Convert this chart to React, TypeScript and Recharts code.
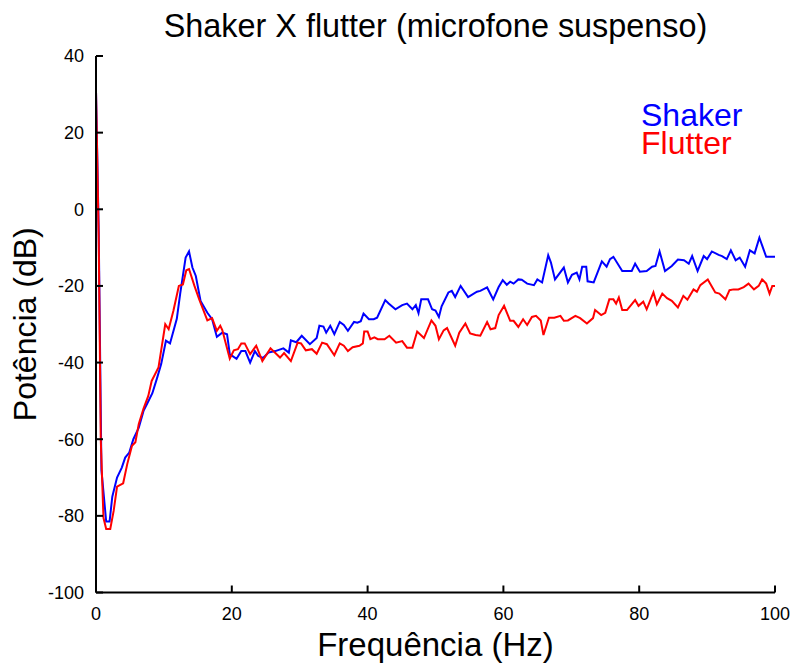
import React from 'react';
import { LineChart, Line, XAxis, YAxis, Legend } from 'recharts';

// [frequency Hz, power dB]
const SHAKER: [number, number][] = [
  [0, 31], [0.4, -6], [0.8, -68], [1.5, -81.5], [2.0, -81.5], [2.4, -75], [3.1, -70], [3.8, -67.4],
  [4.3, -64.8], [4.9, -63.5], [5.5, -60], [6.3, -57], [7.0, -52.6], [7.6, -50.5], [8.3, -48], [9.0, -44],
  [9.6, -40.4], [10.3, -34.3], [10.9, -35], [11.9, -28.6], [12.4, -22], [13.2, -12.6], [13.7, -11],
  [14.2, -15.2], [14.7, -17.4], [15.4, -23.9], [16.4, -27], [17.1, -28.7], [17.8, -33.3], [18.6, -32.2],
  [19.3, -32.6], [19.7, -37.8], [20.7, -39], [21.4, -37], [22.0, -37], [22.7, -40], [23.4, -37],
  [23.9, -38.3], [24.6, -38.8], [25.4, -37.4], [26.4, -37], [27.6, -36.3], [28.4, -37.4], [28.7, -34.2],
  [29.5, -34.7], [30.3, -33], [31.5, -35.2], [32.5, -33.6], [32.9, -30.4], [33.5, -30.6], [33.9, -32.2],
  [34.5, -30.4], [35.1, -32.6], [35.9, -29.4], [36.5, -30.2], [37.1, -31.7], [38.0, -29.4], [38.5, -29.6],
  [39.0, -29.2], [39.4, -27.2], [40.2, -28.7], [40.9, -28.7], [41.4, -28.3], [42.6, -23.7], [43.1, -24.6],
  [44.1, -26.1], [45.1, -25], [45.8, -24.6], [46.6, -26.1], [47.1, -25], [47.5, -27.1], [47.9, -23.5],
  [48.9, -23.5], [49.5, -26.1], [50.0, -26.4], [50.5, -28.1], [50.9, -25.3], [51.9, -21.7], [52.4, -21.3],
  [52.9, -22.9], [53.7, -20], [54.8, -22.9], [56.1, -21.5], [56.6, -21.3], [57.6, -20.4], [58.5, -23.5],
  [59.3, -20.3], [59.9, -18.5], [60.5, -19.7], [61.0, -18.9], [61.5, -19.4], [62.2, -18.3], [62.7, -18.4],
  [63.5, -19.4], [64.5, -19.8], [65.0, -18.3], [65.7, -19.1], [66.6, -12], [67.0, -13.9], [67.6, -18.3],
  [68.9, -15.2], [69.5, -19.1], [70.1, -17.1], [70.8, -16.5], [71.2, -18.3], [71.6, -15], [72.2, -15],
  [72.4, -18.8], [73.3, -19.1], [74.5, -13.6], [75.2, -15], [75.7, -13], [76.2, -12.4], [77.5, -16.1],
  [78.9, -16.1], [79.4, -14.2], [80.1, -16.3], [81.1, -16.1], [81.9, -15], [82.4, -14.8], [83.0, -11],
  [83.8, -16.1], [84.8, -14.8], [85.7, -13.1], [86.6, -13.3], [87.3, -14.2], [87.8, -12.2], [88.6, -16.1],
  [89.5, -12.2], [90.0, -13], [90.7, -11], [91.7, -11.9], [92.2, -12.2], [92.9, -13], [93.5, -10.7],
  [94.2, -13.3], [94.8, -12.6], [95.6, -15], [96.3, -10.7], [97.0, -11.5], [97.7, -7.4], [98.7, -12.4],
  [99.6, -12.4], [100, -12.4],
];

const FLUTTER: [number, number][] = [
  [0, 31], [0.4, -8], [0.7, -60], [1.1, -80.5], [1.5, -83.4], [2.1, -83.4], [2.6, -78.7], [3.1, -72.4],
  [4.0, -71.5], [4.6, -66.5], [5.3, -61.7], [5.8, -60.8], [6.3, -56], [7.0, -52], [7.7, -48.7], [8.2, -44.8],
  [9.2, -41.3], [10.2, -30], [10.7, -31.3], [11.4, -26.5], [12.2, -20], [12.8, -19.6], [13.3, -15.9],
  [13.7, -15.6], [14.5, -20], [15.2, -23.5], [16.4, -29], [17.1, -28.4], [17.8, -31.7], [18.3, -30.4],
  [18.6, -31.5], [19.7, -39], [20.3, -36.8], [20.9, -36.5], [21.4, -35], [21.9, -35], [22.7, -37.8],
  [23.6, -35.6], [24.5, -39.6], [25.7, -36.3], [27.1, -38.7], [27.7, -37.5], [28.7, -39.6], [29.7, -34.8],
  [30.2, -35], [30.9, -36.8], [31.8, -36.5], [32.5, -37.7], [33.3, -34.8], [34.0, -35.2], [35.1, -38.1],
  [35.9, -35], [36.5, -35.6], [37.1, -37], [37.8, -36], [38.8, -35.6], [39.3, -35], [39.5, -31.9],
  [40.0, -31.9], [40.4, -33.9], [41.0, -33.4], [41.5, -33.9], [42.5, -33.9], [43.2, -33], [44.2, -34.8],
  [45.1, -34.4], [45.8, -36.1], [46.6, -36.1], [47.3, -31.9], [48.3, -33.6], [49.4, -29], [50.0, -30.4],
  [50.5, -33.9], [51.2, -31.6], [51.7, -31], [52.9, -35.6], [53.5, -32.2], [54.4, -29.8], [55.1, -32.4],
  [55.9, -32.8], [56.6, -33], [57.6, -29.4], [58.1, -31.3], [58.8, -31], [59.3, -27.6], [60.1, -25.2],
  [61.0, -29.1], [61.5, -29.1], [62.2, -30.7], [62.9, -28.7], [63.5, -30.2], [64.2, -28.1], [64.8, -27.8],
  [65.5, -29], [65.9, -32.8], [66.7, -28.3], [67.5, -28.3], [68.4, -27.8], [68.9, -29.1], [69.5, -29],
  [70.6, -27.8], [71.3, -28.4], [72.3, -29.8], [73.2, -28.4], [73.5, -26.3], [74.4, -27.6], [75.0, -27],
  [75.6, -23.5], [76.2, -23.5], [76.6, -24.6], [77.0, -23], [77.5, -26.3], [78.2, -26.3], [79.4, -23.7],
  [79.9, -25.2], [80.6, -24.1], [81.1, -26.1], [82.1, -21.7], [82.6, -24.8], [83.4, -22], [84.1, -23.2],
  [84.8, -23.9], [85.7, -25.6], [86.5, -22.6], [87.1, -23.6], [88.0, -20.9], [88.5, -21.5], [89.0, -19.8],
  [90.1, -18.3], [91.2, -21.7], [91.8, -22], [92.7, -23.5], [93.3, -21.1], [93.9, -20.9], [94.6, -20.9],
  [95.4, -20.3], [96.1, -19.4], [96.9, -20.9], [97.6, -20], [98.1, -18.3], [98.7, -19.4], [99.2, -22],
  [99.6, -20], [100, -20],
];

const X_TICKS = [0, 20, 40, 60, 80, 100];
const Y_TICKS = [-100, -80, -60, -40, -20, 0, 20, 40];
const SERIES = [
  { name: 'Shaker', color: '#0000ff', points: SHAKER },
  { name: 'Flutter', color: '#ff0000', points: FLUTTER },
];

const FONT = '"Liberation Sans", Arial, Helvetica, sans-serif';
const tickStyle = { fill: '#000', fontSize: 18, fontFamily: FONT };
const axisLine = { stroke: '#000', strokeWidth: 2 };

const LegendText = () => (
  <div style={{ fontFamily: FONT, fontSize: 32, lineHeight: '28px', textAlign: 'left' }}>
    {SERIES.map((s) => (
      <div key={s.name} style={{ color: s.color }}>{s.name}</div>
    ))}
  </div>
);

export default function App() {
  return (
    <div style={{ position: 'absolute', left: 0, top: 0, width: 795, height: 664, background: '#fff' }}>
      <div
        style={{
          position: 'absolute', left: 0, top: 10, width: 871, textAlign: 'center',
          fontFamily: FONT, fontSize: 32.4, lineHeight: '32px', color: '#000',
        }}
      >
        Shaker X flutter (microfone suspenso)
      </div>
      <LineChart width={795} height={664} margin={{ top: 56, right: 20, bottom: 0, left: 0 }}>
        <XAxis
          dataKey="f" type="number" domain={[0, 100]} ticks={X_TICKS} allowDataOverflow
          height={71.5} tickSize={-7} tickMargin={22} tick={tickStyle}
          axisLine={axisLine} tickLine={axisLine}
          label={{ value: 'Frequência (Hz)', position: 'insideBottom', offset: 8, fontSize: 33, fill: '#000', fontFamily: FONT }}
        />
        <XAxis
          xAxisId="top" orientation="top" dataKey="f" type="number" domain={[0, 100]} ticks={X_TICKS}
          allowDataOverflow height={0} tickSize={-7} tick={false}
          axisLine={axisLine} tickLine={axisLine}
        />
        <YAxis
          type="number" domain={[-100, 40]} ticks={Y_TICKS} allowDataOverflow
          width={96} tickSize={-7} tickMargin={19} tick={tickStyle}
          axisLine={axisLine} tickLine={axisLine}
          label={{
            value: 'Potência (dB)', angle: -90, position: 'insideLeft', offset: 25,
            fontSize: 32, fill: '#000', fontFamily: FONT, style: { textAnchor: 'middle' },
          }}
        />
        <YAxis
          yAxisId="right" orientation="right" type="number" domain={[-100, 40]} ticks={Y_TICKS}
          allowDataOverflow width={0} tickSize={-7} tick={false}
          axisLine={axisLine} tickLine={axisLine}
        />
        <Legend
          layout="horizontal" verticalAlign="middle" align="center"
          content={<LegendText />}
          wrapperStyle={{ position: 'absolute', left: 641, top: 101, width: 'auto', height: 'auto' }}
        />
        {SERIES.map((s) => (
          <Line
            key={s.name}
            name={s.name}
            data={s.points.map(([f, db]) => ({ f, db }))}
            dataKey="db"
            type="linear"
            stroke={s.color}
            strokeWidth={2}
            dot={false}
            activeDot={false}
            isAnimationActive={false}
          />
        ))}
      </LineChart>
    </div>
  );
}
